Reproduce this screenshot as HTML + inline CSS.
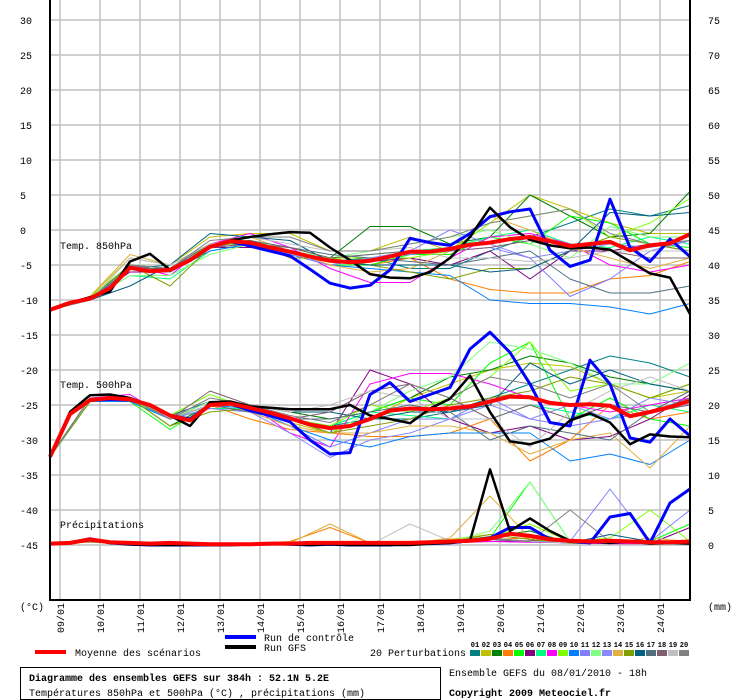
<!DOCTYPE html>
<html><head><meta charset="utf-8"><style>
html,body{margin:0;padding:0;background:#fff;}
svg{display:block;font-family:"Liberation Mono",monospace;font-size:10px;}
</style></head><body>
<svg id="c" width="740" height="700" viewBox="0 0 740 700"></svg>
<script>
// ---- data (12h steps for main runs, 24h steps for members) ----
const dates = ["09/01","10/01","11/01","12/01","13/01","14/01","15/01","16/01","17/01","18/01","19/01","20/01","21/01","22/01","23/01","24/01"];
const leftTicks = [30,25,20,15,10,5,0,-5,-10,-15,-20,-25,-30,-35,-40,-45];
const rightTicks = [75,70,65,60,55,50,45,40,35,30,25,20,15,10,5,0];
const memberColors = ["#008080","#c0c000","#008000","#ff8000","#00ff00","#800080","#00ff80","#ff00ff","#80ff00","#0080ff","#8080ff","#80ff80","#8888ff","#e0b040","#80a000","#006080","#507080","#806070","#c0c0c0","#808080"];

const mean850 = [-11.4,-10.4,-9.8,-8.3,-5.4,-5.9,-5.7,-4.3,-2.4,-1.6,-1.8,-2.5,-3.1,-3.8,-4.4,-4.6,-4.4,-3.8,-3.1,-3.1,-2.7,-2.1,-1.8,-1.3,-1.0,-1.6,-2.3,-2.0,-1.7,-2.9,-2.2,-1.9,-0.6];
const gfs850 = [-11.4,-10.4,-9.6,-8.8,-4.5,-3.4,-5.7,-4.3,-2.4,-1.5,-1.0,-0.6,-0.3,-0.4,-2.5,-4.3,-6.3,-6.8,-6.9,-6.0,-4.0,-1.0,3.2,0.4,-1.4,-2.2,-2.6,-2.5,-2.8,-4.5,-6.2,-6.8,-12];
const ctrl850 = [-11.4,-10.4,-9.8,-8.3,-5.4,-5.9,-5.7,-4.3,-2.4,-1.6,-2.3,-3.0,-3.7,-5.6,-7.6,-8.3,-7.9,-5.7,-1.2,-1.8,-2.2,-0.5,1.9,2.6,3.0,-2.9,-5.2,-4.3,4.4,-2.5,-4.5,-1.3,-3.8];
const mean500 = [-32.4,-26.3,-24.3,-24.0,-24.2,-25.0,-26.5,-27.2,-25.0,-24.8,-25.4,-26.1,-26.9,-27.8,-28.3,-28.0,-27.0,-25.8,-25.5,-25.6,-25.5,-25.2,-24.5,-23.8,-23.9,-24.7,-25.0,-24.9,-25.1,-26.6,-26.0,-25.3,-24.4];
const gfs500 = [-32.4,-26,-23.6,-23.5,-24,-25,-26.5,-28,-24.6,-24.5,-25.2,-25.4,-25.6,-25.6,-25.6,-25,-26.5,-27,-27.6,-25.5,-24.1,-20.8,-26,-30.2,-30.6,-29.8,-27.2,-26.2,-27.5,-30.6,-29.2,-29.5,-29.6];
const ctrl500 = [-32.4,-26.3,-24.3,-24.2,-24.3,-25,-26.5,-27,-25,-24.8,-25.8,-26.5,-27.4,-30,-32,-31.8,-23.5,-21.8,-24.5,-23.5,-22.5,-17,-14.6,-17.5,-22,-27.5,-28,-18.6,-22,-29.7,-30.3,-27,-29.4];
const meanP = [0.2,0.3,0.8,0.4,0.3,0.2,0.3,0.2,0.1,0.1,0.1,0.2,0.2,0.3,0.3,0.3,0.3,0.3,0.3,0.4,0.5,0.6,0.9,1.6,1.3,0.8,0.6,0.5,0.6,0.5,0.4,0.4,0.5];
const gfsP = [0.2,0.3,0.7,0.3,0.1,0,0,0,0,0,0.1,0.1,0.1,0,0.1,0,0,0,0,0.2,0.3,0.6,10.8,2,3.8,2,0.6,0.5,0.3,0.5,0.2,0.3,0.2];
const ctrlP = [0.2,0.3,0.9,0.3,0.1,0,0,0,0,0,0.1,0.2,0.1,0,0.1,0,0,0,0.3,0.2,0.3,0.6,1,2.5,2.5,0.8,0.5,0.3,4.0,4.5,0.3,6,8];

const m850 = [
[-11.4,-10,-5.5,-5,-2,-1.5,-3,-4.5,-4,-5.5,-5.5,-3,-1,1,3,2,3.5],
[-11.4,-9.5,-4,-5,-1,-0.5,-0.5,-3,-3,-1,-3,1,5,3,1,-0.5,-0.5],
[-11.4,-9.8,-5,-5.5,-2,-2,-2.5,-4,0.5,0.5,-2,-1,5,2,-1,-0.5,5.5],
[-11.4,-10,-5,-6,-2.5,-2,-3,-5,-5,-4,-7,-8.5,-9,-9,-7,-6.5,-4.5],
[-11.4,-9.5,-5.5,-6,-2,-1.5,-3.5,-5,-5,-3.5,-3.5,-1,-2,2,1,-2,-2.5],
[-11.4,-10,-6,-6,-2.5,-2.5,-3,-4.5,-4.5,-4,-5,-3,-7,-3,-3,-2,-3],
[-11.4,-10,-6.5,-7,-3,-2,-3,-4,-3.5,-3,-2.5,-1,0,-2,-2.5,-1,-2],
[-11.4,-10,-5,-6.5,-2,-0.5,-2.5,-5.5,-7.5,-7.5,-4,-1,-0.5,-2,-5,-6,-5],
[-11.4,-9.5,-5,-6,-2,-1.5,-3,-4,-4,-4,-3,1,2,3,-1,1,4.5],
[-11.4,-10,-5.5,-6,-3,-2,-3.5,-5,-5.5,-6,-6.5,-10,-10.5,-10.5,-11,-12,-10.5],
[-11.4,-10,-5.5,-5.5,-2.5,-2,-3.5,-5,-4,-3.5,-3,-2.5,-4,-9.5,-7,-3,-1.5],
[-11.4,-10,-6.5,-6.5,-3.5,-2,-3,-4,-3,-2,-1,0,-2,-4,0.5,-1,-1],
[-11.4,-10,-5,-6,-2.5,-2,-3,-5,-4,-3,0,-2,-4,-3,-2,-2.5,-1.5],
[-11.4,-9.5,-3.5,-5,-2,-1,-3,-5,-6,-5.5,-3,2,0,-2.5,-4,-5.5,-4],
[-11.4,-10,-5,-8,-2.5,-1.5,-4,-4,-5,-6,-7,-5.5,-5.5,-3,-1,-2,-3],
[-11.4,-10,-8,-5,-0.5,-1,-1.5,-4.5,-5,-5,-5,-6,-5.5,-3,2.5,2,2.5],
[-11.4,-10,-5.5,-5.5,-2,-1.5,-2.5,-3.5,-4,-4.5,-5,-4,-3,-7,-9,-9,-8],
[-11.4,-10,-5,-6,-2.5,-2,-2.5,-4,-3.5,-3,-3,-2.5,-1.5,-2,-3,-4,-4],
[-11.4,-10,-4,-5,-2,-1,-2,-3,-3,-2.5,-4,-4,-4.5,-4,-3,-3,-3],
[-11.4,-10,-5,-5.5,-1.5,-1,-1,-3,-3,-2,-1,1,2,3,-0.5,-2,-1.5]];
const m500 = [
[-32.4,-24,-24,-26.5,-24.5,-25,-27,-28,-27,-27,-26,-24,-22,-20,-18,-19,-21],
[-32.4,-24,-24.5,-27,-25,-25,-27.5,-29,-27,-24,-22,-20,-19,-19.5,-22,-24,-23],
[-32.4,-24.5,-24,-28,-25,-25,-26,-27,-26,-24,-21,-20,-18,-19,-21,-22,-23],
[-32.4,-24,-24,-27,-25,-27,-28.5,-29,-29.5,-29.5,-29,-27,-33,-30,-25,-27,-26],
[-32.4,-24.5,-24.5,-28.5,-25,-25.5,-27,-28,-26,-24,-25,-19,-16,-27,-24,-27,-28],
[-32.4,-24,-24,-27,-25,-25,-27,-29,-20,-22,-27,-29,-28,-30,-29.5,-27,-23.5],
[-32.4,-24,-24.2,-27,-25.5,-25.5,-27,-28,-26,-26.5,-27,-27,-25,-26,-27,-25,-26],
[-32.4,-24,-23.5,-27,-24.5,-25,-29,-31,-22,-20.5,-20.5,-22,-24,-25,-26,-25,-24],
[-32.4,-24.5,-24.5,-26.5,-23.5,-25.5,-27,-28,-25,-26,-24,-21,-16,-23,-22,-24,-22],
[-32.4,-24.5,-24.5,-27,-25,-25.5,-28,-30,-31,-29.5,-29,-29,-29,-33,-32,-33.5,-30],
[-32.4,-24,-24,-27,-25.5,-26,-28,-31,-29,-27,-27,-24,-27,-28,-27,-26,-24],
[-32.4,-24,-24,-27,-24.5,-25,-27,-29,-26,-23,-21,-16,-17,-19,-22,-22,-19],
[-32.4,-24,-24,-27,-25,-26,-29,-32.5,-30,-29,-27,-25,-27,-25,-27,-24,-25],
[-32.4,-24,-24,-27,-25,-26,-28,-29,-29,-28,-28,-29,-32,-30,-29,-34,-28],
[-32.4,-24.5,-24,-28,-26,-25.5,-27,-29,-28,-27,-25,-24,-23,-21,-22,-24,-22],
[-32.4,-24,-24,-27,-25,-25,-26,-26,-27,-26,-26,-25,-19,-22,-20,-22,-23],
[-32.4,-24,-24,-27,-25,-26,-27,-27,-26,-25,-26,-30,-28,-29,-30,-26,-23],
[-32.4,-24,-24,-27,-23,-25,-27,-26,-23,-22,-24,-27,-25,-27,-25,-26,-25],
[-32.4,-24,-24,-27,-25,-25,-26,-25,-23,-24,-27,-27,-31,-26,-23,-21,-23],
[-32.4,-24,-24,-27,-24,-25,-26.5,-27.5,-25,-22,-24,-21,-22,-24,-22,-26,-24]];
const mP = [
[0.2,0.5,0.3,0,0,0.2,0.3,0,0,0.2,0.5,1,0.5,0.3,0.5,0.2,0.3],
[0.2,0.6,0.3,0,0,0.1,0.2,0.1,0,0.3,0.8,1.5,0.8,0.2,0.3,0.4,0.5],
[0.2,0.5,0.2,0,0,0.1,0.2,0,0.1,0.2,0.5,1.2,2,0.3,0.2,0.5,0.3],
[0.2,0.4,0.2,0,0,0.2,0.5,2.5,0.3,0.2,0.3,0.8,1,0.5,0.3,0.2,0.5],
[0.2,0.5,0.3,0,0,0.1,0.2,0,0,0.2,0.5,1,9,0.5,0.8,0.5,3],
[0.2,0.5,0.2,0,0,0.1,0.1,0,0,0.1,0.3,0.5,0.6,0.3,0.2,0.2,2.5],
[0.2,0.5,0.3,0,0,0.1,0.2,0,0,0.2,0.4,1,0.5,0.3,0.5,0.4,0.3],
[0.2,0.5,0.3,0,0,0.1,0.2,0,0,0.2,0.4,0.5,0.4,0.3,0.2,0.2,0.3],
[0.2,0.5,0.2,0,0,0.1,0.2,0,0,0.2,0.5,1,3,0.5,1,5,0.5],
[0.2,0.5,0.3,0,0,0.1,0.2,0,0,0.3,0.5,1,0.5,0.3,0.5,0.3,0.4],
[0.2,0.6,0.3,0,0,0.1,0.2,0,0,0.2,0.5,0.8,0.5,0.5,8,0.5,5],
[0.2,0.5,0.3,0,0,0.1,0.2,0,0,0.2,0.5,2,9,0.5,0.5,0.5,0.5],
[0.2,0.5,0.3,0,0,0.1,0.2,0,0,0.2,0.5,1,0.5,0.3,0.5,0.3,0.4],
[0.2,0.5,0.3,0,0,0.1,0.3,3,0.3,0.2,1,7,1,0.5,0.3,1,0.5],
[0.2,0.5,0.3,0,0,0.1,0.2,0,0,0.3,0.5,1.5,0.8,0.3,0.5,0.3,0.4],
[0.2,0.5,0.3,0,0,0.1,0.2,0,0,0.2,0.5,1,0.5,0.3,1.5,0.5,0.4],
[0.2,0.5,0.3,0,0,0.1,0.2,0,0,0.2,0.5,0.8,0.5,0.3,0.5,0.3,0.4],
[0.2,0.5,0.3,0,0,0.1,0.2,0,0,0.2,0.4,0.8,0.5,0.3,0.5,0.3,0.4],
[0.2,0.5,0.3,0,0,0.1,0.2,0,0,3,0.6,1,0.5,0.3,0.5,0.3,0.4],
[0.2,0.5,0.3,0,0,0.1,0.2,0,0,0.3,0.5,1,0.5,5,0.5,0.3,0.4]];

// ---- axes ----
const X0 = 50, X1 = 690, Y0 = 0, Y1 = 600;
const yT = v => 230 - v * 7;          // temperature (°C)
const yP = v => 545 - v * 7;          // precipitation (mm)
const xStep = (i, step) => X0 + i * step;
const NS = "http://www.w3.org/2000/svg";
const svg = document.getElementById("c");
function mk(tag, attrs, parent) {
  const e = document.createElementNS(NS, tag);
  for (const k in attrs) e.setAttribute(k, attrs[k]);
  (parent || svg).appendChild(e);
  return e;
}
function txt(x, y, s, extra, parent) {
  const t = mk("text", Object.assign({x: x, y: y, fill: "#000"}, extra || {}), parent);
  t.textContent = s;
  return t;
}

// grid
const grid = mk("g", {stroke: "#c0c0c0", "stroke-width": 1.5});


leftTicks.forEach(v => mk("line", {x1: X0, x2: X1, y1: yT(v), y2: yT(v)}, grid));
dates.forEach((d, k) => { const x = 60 + k * 40; mk("line", {x1: x, x2: x, y1: Y0, y2: Y1}, grid); });

// left ticks
const lt = mk("g", {});


leftTicks.forEach(v => txt(20, yT(v) + 4, String(v), {}, lt));
const dl = mk("g", {});


dates.forEach((d, k) => {
  const x = 60 + k * 40 + 4, y = 603;
  txt(x, y, d, {transform: `rotate(-90 ${x} ${y})`, "text-anchor": "end"}, dl);
});
const u1 = txt(20, 610, "(°C)", {});


const u2 = txt(708, 610, "(mm)", {});



// series
function line(vals, step, yf, color, w, name) {
  const pts = vals.map((v, i) => xStep(i, step).toFixed(1) + "," + yf(v).toFixed(1)).join(" ");
  const p = mk("polyline", {points: pts, fill: "none", stroke: color, "stroke-width": w, "stroke-linejoin": "round"});
  
  
  return p;
}
m850.forEach((s, i) => line(s, 40, yT, memberColors[i], 1, "member-850-line"));
m500.forEach((s, i) => line(s, 40, yT, memberColors[i], 1, "member-500-line"));
mP.forEach((s, i) => line(s, 40, yP, memberColors[i], 1, "member-precip-line"));
line(ctrl850, 20, yT, "#0000ff", 3, "control-850-line");
line(ctrl500, 20, yT, "#0000ff", 3, "control-500-line");
line(ctrlP, 20, yP, "#0000ff", 3, "control-precip-line");
line(gfs850, 20, yT, "#000", 2.5, "gfs-850-line");
line(gfs500, 20, yT, "#000", 2.5, "gfs-500-line");
line(gfsP, 20, yP, "#000", 2.5, "gfs-precip-line");
line(mean850, 20, yT, "#ff0000", 4, "mean-850-line");
line(mean500, 20, yT, "#ff0000", 4, "mean-500-line");
line(meanP, 20, yP, "#ff0000", 4, "mean-precip-line");

// white mask outside plot (right edge) and right ticks
mk("rect", {x: X1 + 1, y: 0, width: 49, height: 600, fill: "#fff"});
const rt = mk("g", {});


rightTicks.forEach(v => txt(708, yP(v) + 4, String(v), {}, rt));

// axes frame
const ax = mk("path", {d: `M${X0},0 V${Y1} H${X1} V0`, fill: "none", stroke: "#000", "stroke-width": 2});



// in-plot labels
[["Temp. 850hPa", 249, "label-850"], ["Temp. 500hPa", 388, "label-500"], ["Précipitations", 528, "label-precip"]].forEach(a => {
  const t = txt(60, a[1], a[0], {});
  
  
});

// legend
const lg = mk("g", {});


mk("rect", {x: 35, y: 650, width: 31, height: 4, fill: "#ff0000"}, lg);
txt(75, 656, "Moyenne des scénarios", {}, lg);
mk("rect", {x: 225, y: 635, width: 31, height: 4, fill: "#0000ff"}, lg);
txt(264, 641, "Run de contrôle", {}, lg);
mk("rect", {x: 225, y: 645, width: 31, height: 4, fill: "#000"}, lg);
txt(264, 651, "Run GFS", {}, lg);
txt(370, 656, "20 Perturbations", {}, lg);
memberColors.forEach((c, i) => {
  const x = 470 + i * 11;
  txt(x + 5, 647, String(i + 1).padStart(2, "0"), {"font-size": "7", "text-anchor": "middle", "font-weight": "bold"}, lg);
  mk("rect", {x: x, y: 650, width: 10, height: 6, fill: c}, lg);
});

// title box
const tb = mk("g", {});


mk("rect", {x: 20.5, y: 667.5, width: 420, height: 32, fill: "none", stroke: "#000", "stroke-width": 1}, tb);
txt(29, 681, "Diagramme des ensembles GEFS sur 384h : 52.1N 5.2E", {"font-weight": "bold"}, tb);
txt(29, 696, "Températures 850hPa et 500hPa (°C) , précipitations (mm)", {}, tb);
const inf = txt(449, 676, "Ensemble GEFS du 08/01/2010 - 18h", {});


const cp = txt(449, 696, "Copyright 2009 Meteociel.fr", {"font-weight": "bold"});


</script>
</body></html>
